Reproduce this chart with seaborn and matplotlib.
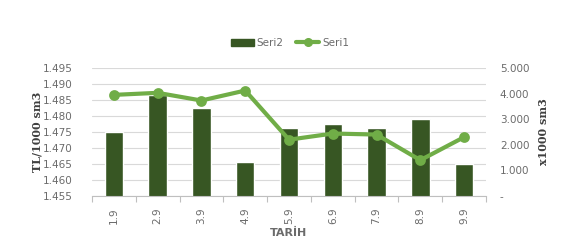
import matplotlib
matplotlib.use("Agg")
import matplotlib.pyplot as plt
import seaborn as sns
import numpy as np
from matplotlib.lines import Line2D
from matplotlib.patches import Patch
from matplotlib.ticker import FixedLocator, FuncFormatter

dates = ["1.9", "2.9", "3.9", "4.9", "5.9", "6.9", "7.9", "8.9", "9.9"]
seri2 = [1.4751, 1.4866, 1.4826, 1.4657, 1.4763, 1.4776, 1.4763, 1.4791, 1.4650]
seri1 = [3950, 4030, 3730, 4120, 2200, 2440, 2400, 1400, 2300]
left_ticks = [1.455, 1.460, 1.465, 1.470, 1.475, 1.480, 1.485, 1.490, 1.495]
right_ticks = [0, 1000, 2000, 3000, 4000, 5000]

sns.set_theme(style="white")
plt.rcParams['font.family'] = ['DejaVu Sans']

bar_c = "#375623"
line_c = "#70AD47"
txt_c = "#6B6B6B"

fig = plt.figure(figsize=(5.74, 2.47), dpi=100)
ax = fig.add_axes([92/574, 51/247, 394/574, 128/247])
sns.barplot(x=dates, y=seri2, color=bar_c, width=0.42, ax=ax, saturation=1)
ax.set_ylim(1.455, 1.495)
ax.set_xlim(-0.5, len(dates) - 0.5)
ax.set_yticks(left_ticks)
ax.yaxis.set_major_formatter(FuncFormatter(lambda v, p: f"{v:.3f}"))
ax.grid(axis="y", color="#D9D9D9", linewidth=0.8)
ax.set_axisbelow(True)
for s in ["top", "right", "left"]:
    ax.spines[s].set_visible(False)
ax.spines["bottom"].set_color("#BFBFBF")
ax.spines["bottom"].set_linewidth(0.8)
ax.tick_params(axis="y", length=0, labelsize=7.5, labelcolor=txt_c, pad=14)
ax.tick_params(axis="x", which="major", length=0, labelsize=7.5, labelcolor=txt_c, rotation=90, pad=8)
ax.xaxis.set_minor_locator(FixedLocator(np.arange(-0.5, len(dates), 1.0)))
ax.tick_params(axis="x", which="minor", length=4, color="#BFBFBF", width=0.8, bottom=True)
ax.set_xlabel("TARİH", fontsize=8, fontweight="bold", color=txt_c, labelpad=3)
ax.set_ylabel("TL/1000 sm3", fontsize=8, fontweight="bold", color="#404040",
              family="DejaVu Serif", labelpad=0)

ax2 = ax.twinx()
sns.pointplot(x=dates, y=seri1, color=line_c, markers="o", linestyles="-",
              ax=ax2, markersize=5.5, linewidth=3.0)
ax2.set_ylim(0, 5000)
ax2.set_xlim(-0.5, len(dates) - 0.5)
ax2.set_yticks(right_ticks)
ax2.yaxis.set_major_formatter(FuncFormatter(lambda v, p: "-" if v == 0 else f"{int(v):,}".replace(",", ".")))
ax2.tick_params(axis="y", length=0, labelsize=7.5, labelcolor=txt_c, pad=10)
for s in ["top", "right", "left", "bottom"]:
    ax2.spines[s].set_visible(False)
ax2.set_ylabel("x1000 sm3", fontsize=8, fontweight="bold", color="#404040",
               family="DejaVu Serif", labelpad=6)
ax2.grid(False)

handles = [Patch(color=bar_c), Line2D([0], [0], color=line_c, lw=3.0, marker="o", markersize=5.5)]
fig.legend(handles, ["Seri2", "Seri1"], loc="center", bbox_to_anchor=(290/574, 1 - 43/247),
           ncol=2, frameon=False, fontsize=7.5, handlelength=2.2, columnspacing=1.2,
           handletextpad=0.3, labelcolor=txt_c)

fig.savefig("out.png", dpi=100)
